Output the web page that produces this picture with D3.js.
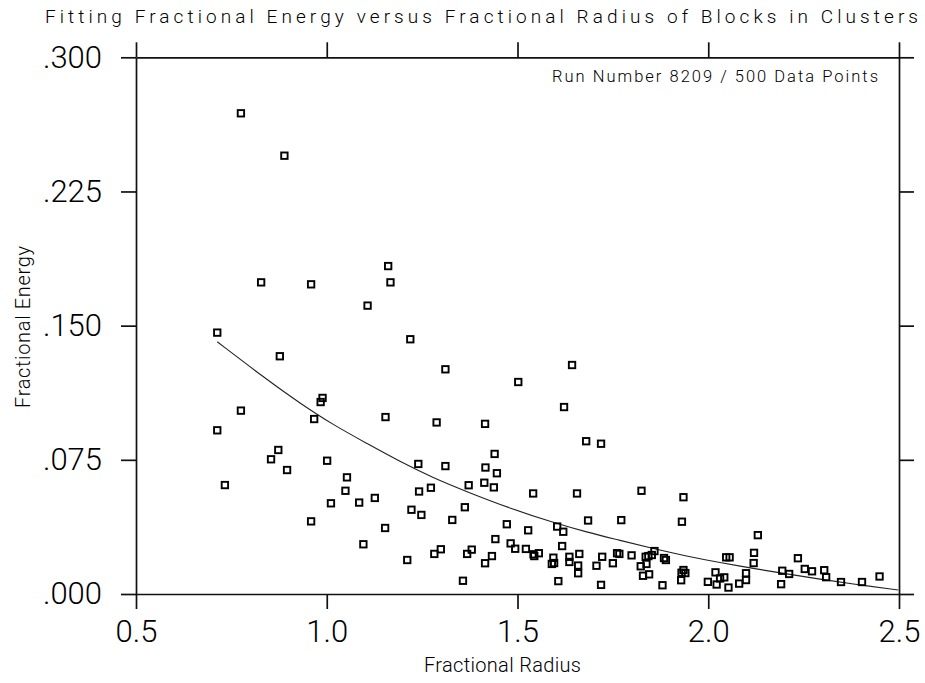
<!DOCTYPE html>
<html>
<head>
<meta charset="utf-8">
<script src="https://cdn.jsdelivr.net/npm/d3@7/dist/d3.min.js"></script>
<style>
  body { margin: 0; background: #fff; }
  text { font-family: Roboto, "DejaVu Sans", sans-serif; fill: #000; }
</style>
</head>
<body>
<svg id="chart" width="925" height="683"></svg>
<script>
// Block measurements: fractional radius and fractional energy
const radius = [
  0.775, 0.889, 0.828, 0.959, 1.161, 1.167, 1.107, 0.713, 1.219, 0.877,
  0.989, 0.984, 0.775, 0.967, 1.154, 0.713, 0.873, 0.854, 0.896, 0.733,
  1.001, 1.053, 1.049, 1.011, 1.085, 1.126, 0.959, 1.096, 1.311, 1.643,
  1.502, 1.622, 1.288, 1.415, 1.680, 1.719, 1.440, 1.240, 1.311, 1.416,
  1.446, 1.242, 1.273, 1.372, 1.413, 1.438, 1.541, 1.656, 1.825, 1.222,
  1.248, 1.362, 1.329, 1.153, 1.472, 1.528, 1.604, 1.620, 1.685, 1.772,
  1.442, 1.482, 1.494, 1.522, 1.544, 1.556, 1.542, 1.617, 1.594, 1.590,
  1.596, 1.636, 1.636, 1.662, 1.659, 1.659, 1.607, 1.707, 1.722, 1.750,
  1.761, 1.767, 1.799, 1.719, 1.823, 1.836, 1.838, 1.829, 1.845, 1.211,
  1.282, 1.299, 1.368, 1.380, 1.415, 1.433, 1.357, 1.935, 1.931, 2.130,
  1.859, 1.852, 1.843, 1.884, 1.889, 1.880, 1.935, 1.940, 1.930, 1.929,
  2.019, 1.999, 2.022, 2.031, 2.042, 2.053, 2.047, 2.056, 2.081, 2.099,
  2.099, 2.120, 2.119, 2.191, 2.194, 2.212, 2.235, 2.253, 2.272, 2.304,
  2.309, 2.348, 2.403, 2.449
];
const energy = [
  0.2687, 0.2450, 0.1742, 0.1731, 0.1833, 0.1742, 0.1612, 0.1461, 0.1424, 0.1329,
  0.1096, 0.1073, 0.1025, 0.0978, 0.0989, 0.0915, 0.0805, 0.0753, 0.0693, 0.0609,
  0.0745, 0.0652, 0.0577, 0.0507, 0.0511, 0.0537, 0.0406, 0.0278, 0.1256, 0.1280,
  0.1185, 0.1045, 0.0959, 0.0951, 0.0854, 0.0840, 0.0783, 0.0727, 0.0715, 0.0707,
  0.0675, 0.0573, 0.0594, 0.0608, 0.0622, 0.0596, 0.0562, 0.0562, 0.0577, 0.0471,
  0.0442, 0.0485, 0.0414, 0.0369, 0.0390, 0.0356, 0.0377, 0.0348, 0.0411, 0.0413,
  0.0307, 0.0283, 0.0253, 0.0252, 0.0212, 0.0228, 0.0222, 0.0268, 0.0203, 0.0168,
  0.0173, 0.0208, 0.0179, 0.0224, 0.0159, 0.0116, 0.0072, 0.0158, 0.0208, 0.0172,
  0.0228, 0.0224, 0.0216, 0.0051, 0.0155, 0.0208, 0.0168, 0.0102, 0.0110, 0.0190,
  0.0224, 0.0250, 0.0224, 0.0248, 0.0172, 0.0212, 0.0074, 0.0541, 0.0404, 0.0329,
  0.0240, 0.0218, 0.0212, 0.0201, 0.0190, 0.0049, 0.0134, 0.0117, 0.0119, 0.0077,
  0.0121, 0.0068, 0.0053, 0.0087, 0.0093, 0.0036, 0.0205, 0.0205, 0.0058, 0.0116,
  0.0078, 0.0230, 0.0173, 0.0055, 0.0130, 0.0112, 0.0200, 0.0140, 0.0127, 0.0133,
  0.0094, 0.0067, 0.0067, 0.0098
];

// Fitted energy curve, sampled along the radius range
const fitRadius = [0.713, 0.843, 0.930, 1.017, 1.105, 1.192, 1.279, 1.367, 1.480, 1.594,
                   1.681, 1.769, 1.856, 1.943, 2.031, 2.118, 2.206, 2.293, 2.380, 2.498];
const fitEnergy = [0.1410, 0.1198, 0.1066, 0.0945, 0.0842, 0.0740, 0.0649, 0.0572, 0.0479, 0.0399,
                   0.0346, 0.0300, 0.0253, 0.0212, 0.0175, 0.0143, 0.0112, 0.0083, 0.0056, 0.0022];

const xTicks = [0.5, 1.0, 1.5, 2.0, 2.5];
const yTicks = [0.000, 0.075, 0.150, 0.225, 0.300];

const titleText = "Fitting Fractional Energy versus Fractional Radius of Blocks in Clusters";
const noteText = "Run Number 8209 / 500 Data Points";
const xLabel = "Fractional Radius";
const yLabel = "Fractional Energy";

const svg = d3.select("#chart");
const plotLeft = 136, plotRight = 899, plotTop = 57.3, plotBottom = 594;

const x = d3.scaleLinear().domain([0.5, 2.5]).range([plotLeft, plotRight]);
const y = d3.scaleLinear().domain([0, 0.3]).range([plotBottom, plotTop]);

const fmtY = v => d3.format(".3f")(v).replace(/^0/, "");
const fmtX = d3.format(".1f");

function styleAxis(g) {
  g.selectAll("path.domain").attr("stroke", "#111").attr("stroke-width", 1.7);
  g.selectAll(".tick line").attr("stroke", "#111").attr("stroke-width", 1.7);
  g.selectAll(".tick text")
    .attr("fill", "#000")
    .style("font-family", "Roboto, 'DejaVu Sans', sans-serif")
    .style("font-weight", 300)
    .style("font-size", "31px");
}

svg.append("g").attr("transform", `translate(0,${plotBottom})`)
  .call(d3.axisBottom(x).tickValues(xTicks).tickFormat(fmtX).tickSize(15).tickSizeOuter(0).tickPadding(11))
  .call(styleAxis);
svg.append("g").attr("transform", `translate(0,${plotTop})`)
  .call(d3.axisTop(x).tickValues(xTicks).tickFormat("").tickSize(15).tickSizeOuter(0))
  .call(styleAxis);
svg.append("g").attr("transform", `translate(${plotLeft},0)`)
  .call(d3.axisLeft(y).tickValues(yTicks).tickFormat(fmtY).tickSize(15).tickSizeOuter(0).tickPadding(19))
  .call(styleAxis);
svg.append("g").attr("transform", `translate(${plotRight},0)`)
  .call(d3.axisRight(y).tickValues(yTicks).tickFormat("").tickSize(15).tickSizeOuter(0))
  .call(styleAxis);

// Fit curve
const fitPts = fitRadius.map((r, i) => [r, fitEnergy[i]]);
svg.append("path")
  .datum(fitPts)
  .attr("fill", "none")
  .attr("stroke", "#222")
  .attr("stroke-width", 1.1)
  .attr("d", d3.line().x(d => x(d[0])).y(d => y(d[1])).curve(d3.curveBasis));

// Data points as open squares
const pts = radius.map((r, i) => ({ r, e: energy[i] }));
const s = 6.4;
svg.append("g").selectAll("rect").data(pts).join("rect")
  .attr("x", d => x(d.r) - s / 2)
  .attr("y", d => y(d.e) - s / 2)
  .attr("width", s).attr("height", s)
  .attr("fill", "none")
  .attr("stroke", "#000")
  .attr("stroke-width", 1.9);

// Texts
svg.append("text")
  .attr("x", 45).attr("y", 23)
  .attr("textLength", 873).attr("lengthAdjust", "spacing")
  .style("font-size", "19px").style("font-weight", 300)
  .text(titleText);

svg.append("text")
  .attr("x", 878).attr("y", 81.5)
  .attr("text-anchor", "end")
  .attr("textLength", 326).attr("lengthAdjust", "spacing")
  .style("font-size", "16.5px").style("font-weight", 300)
  .text(noteText);

svg.append("text")
  .attr("x", 424).attr("y", 672)
  .attr("textLength", 157).attr("lengthAdjust", "spacing")
  .style("font-size", "20px").style("font-weight", 300)
  .text(xLabel);

svg.append("text")
  .attr("transform", "translate(30,408) rotate(-90)")
  .attr("textLength", 162).attr("lengthAdjust", "spacing")
  .style("font-size", "20px").style("font-weight", 300)
  .text(yLabel);
</script>
</body>
</html>
